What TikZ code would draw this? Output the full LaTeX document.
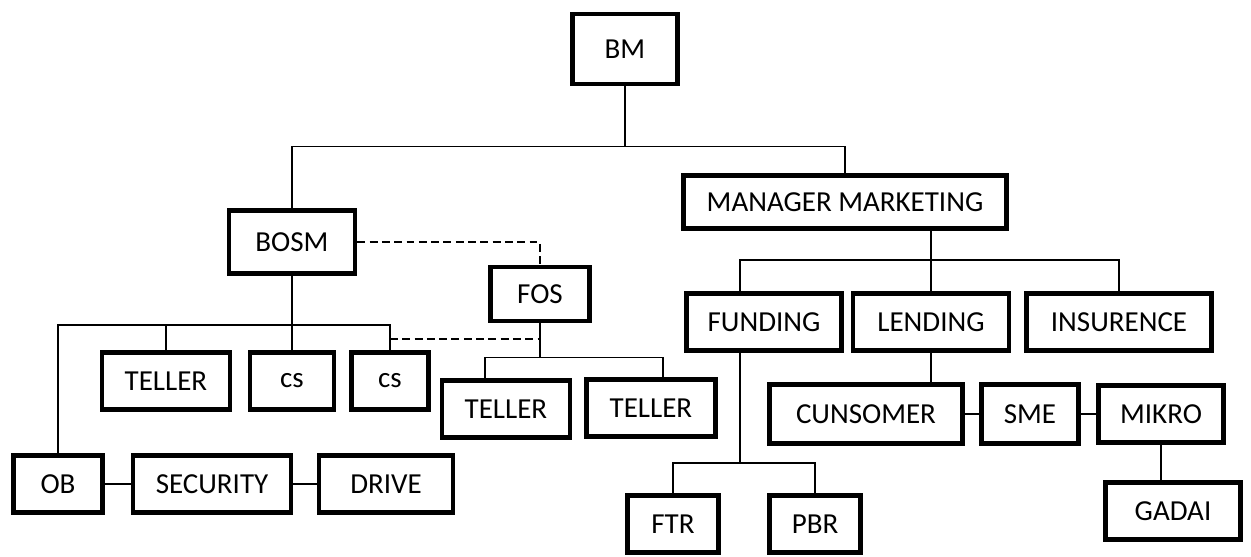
\documentclass[tikz,border=0pt]{standalone}
\usepackage{fontspec}
\setmainfont{Carlito}
\usepackage{tikz}

\begin{document}
\begin{tikzpicture}[x=0.02cm,y=-0.02cm]

%
% Styles
%
\tikzstyle{box}      = [draw,rectangle,line width=2.7pt,minimum height=1.14cm,inner sep=0pt,font=\fontsize{16.5}{20}\selectfont]
\tikzstyle{link}     = [line width=0.9pt]
\tikzstyle{linkdash} = [line width=0.9pt,dash pattern=on 4.5pt off 2.5pt]

\useasboundingbox (0,0) rectangle (1251,556);

% top
\node[box,minimum width=2.10cm,minimum height=1.40cm] (bm)   at (625,49)  {BM};
\node[box,minimum width=2.52cm,minimum height=1.26cm] (bosm) at (292,242) {BOSM};
\node[box,minimum width=6.46cm,minimum height=1.06cm] (mm)   at (845,202) {MANAGER MARKETING};
\node[box,minimum width=1.98cm,minimum height=1.08cm] (fos)  at (540,294) {FOS};

% back office
\node[box,minimum width=2.56cm] (tellera) at (166,381) {TELLER};
\node[box,minimum width=1.68cm] (csa)     at (292,381) {cs};
\node[box,minimum width=1.54cm] (csb)     at (390,381) {cs};
\node[box,minimum width=1.78cm] (ob)       at (58,484)  {OB};
\node[box,minimum width=3.16cm] (security) at (212,484) {SECURITY};
\node[box,minimum width=2.68cm] (drive)    at (386,484) {DRIVE};

% front office
\node[box,minimum width=2.56cm] (tellerb) at (506,409) {TELLER};
\node[box,minimum width=2.58cm] (tellerc) at (651,408) {TELLER};

% marketing
\node[box,minimum width=3.10cm] (funding)   at (764,322)  {FUNDING};
\node[box,minimum width=3.12cm] (lending)   at (931,322)  {LENDING};
\node[box,minimum width=3.70cm] (insurence) at (1119,322) {INSURENCE};
\node[box,minimum width=3.86cm,minimum height=1.18cm] (cunsomer) at (866,414) {CUNSOMER};
\node[box,minimum width=1.94cm,minimum height=1.18cm] (sme)      at (1030,414) {SME};
\node[box,minimum width=2.50cm] (mikro) at (1161,414) {MIKRO};
\node[box,minimum width=2.70cm] (gadai) at (1173,511) {GADAI};
\node[box,minimum width=1.82cm] (ftr)   at (673,524)  {FTR};
\node[box,minimum width=1.82cm] (pbr)   at (815,524)  {PBR};

% BM
\draw[link] (bm.south) -- ++(0,60) coordinate (bmjoin);
\draw[link] (bmjoin) -| (bosm.north);
\draw[link] (bmjoin) -| (mm.north);

% BOSM
\draw[link] (bosm.south) -- ++(0,49) coordinate (bosmjoin);
\foreach \n in {ob,tellera,csa,csb}
  \draw[link] (bosmjoin) -| (\n.north);
\draw[link] (ob) -- (security) -- (drive);
\draw[linkdash] (bosm.east) -| (fos.north);

% FOS
\draw[link] (fos.south) -- ++(0,34) coordinate (fosjoin);
\draw[link] (fosjoin) -| ([xshift=-0.42cm]tellerb.north);
\draw[link] (fosjoin) -| ([xshift=0.24cm]tellerc.north);
\path (csb.north) ++(0,-11) coordinate (csdash);
\draw[linkdash] (csdash) -- (csdash -| fos.south);

% MANAGER MARKETING
\draw[link] (mm.south -| lending.north) -- ++(0,29) coordinate (mmjoin);
\draw[link] (mmjoin) -| ([xshift=-0.48cm]funding.north);
\draw[link] (mmjoin) -- (lending.north);
\draw[link] (mmjoin) -| (insurence.north);

% FUNDING
\draw[link] ([xshift=-0.48cm]funding.south) -- ++(0,110) coordinate (fundjoin);
\draw[link] (fundjoin) -| (ftr.north);
\draw[link] (fundjoin) -| (pbr.north);

% LENDING
\draw[link] (lending.south) -- (lending.south |- cunsomer.north);
\draw[link] (cunsomer) -- (sme) -- (mikro);
\draw[link] (mikro.south) -- (mikro.south |- gadai.north);

\end{tikzpicture}
\end{document}
